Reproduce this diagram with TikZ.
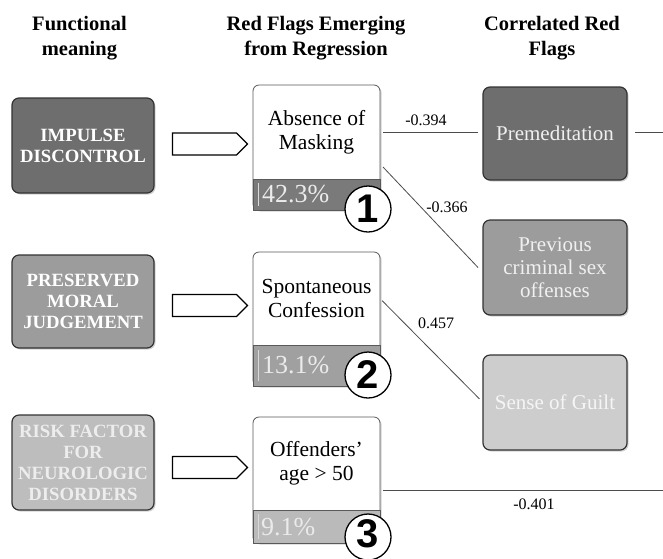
\documentclass[tikz,border=0pt]{standalone}
\usepackage{fontspec}
\setmainfont{Liberation Serif}
\newfontfamily\numfont{Liberation Sans}
\usetikzlibrary{shapes.symbols,shadows,calc}
\definecolor{fA}{HTML}{6E6E6E}
\definecolor{fB}{HTML}{9C9C9C}
\definecolor{fC}{HTML}{BDBDBD}
\definecolor{bA}{HTML}{7A7A7A}
\definecolor{bB}{HTML}{A0A0A0}
\definecolor{bC}{HTML}{BABABA}
\definecolor{cC}{HTML}{CDCDCD}
\begin{document}
\begin{tikzpicture}[x=1pt,y=-1pt,
 every node/.style={inner sep=0pt, outer sep=0pt},
 shad/.style={drop shadow={shadow xshift=1.5pt, shadow yshift=-1.5pt, opacity=0.35}},
 hdr/.style={font=\fontsize{20.5}{25}\selectfont\bfseries, align=center},
 fbox/.style={shad, draw=black!80, line width=1.2pt, rounded corners=7pt, minimum width=142pt, align=center, text=white, font=\fontsize{18.7}{21}\selectfont\bfseries},
 cbox/.style={shad, draw=black!80, line width=1.2pt, rounded corners=7pt, minimum width=144pt, align=center, text=white!94!black, font=\fontsize{21}{23}\selectfont},
 mbox/.style={shad, draw=black!65, line width=0.8pt, fill=white, rounded corners=6pt, minimum width=127pt},
 mtext/.style={minimum width=127pt, align=center, font=\fontsize{21.5}{24}\selectfont},
 band/.style={draw=black!65, line width=0.8pt, minimum width=127pt},
 pct/.style={anchor=west, text=white!92!black, font=\fontsize{26}{26}\selectfont},
 pbar/.style={draw=white!85!black, line width=1.5pt},
 ring/.style={circle, draw=black, line width=1.3pt, fill=white, minimum size=46pt},
 digit/.style={font=\numfont\bfseries\fontsize{40}{40}\selectfont},
 harrow/.style={signal, signal to=east, signal pointer angle=90, draw=black, line width=1.3pt, fill=white, minimum width=75pt, minimum height=22pt},
 link/.style={draw=black!70, line width=0.8pt},
 coef/.style={font=\fontsize{16}{16}\selectfont}
]
\useasboundingbox (0,0) rectangle (663,558);
\fill[white] (0,0) rectangle (663,558);

% headers
\node[hdr] (h1) at (79.5,38) {Functional\\meaning};
\node[hdr] (h2) at (316,38) {Red Flags Emerging\\from Regression};
\node[hdr] (h3) at (552,38) {Correlated Red\\Flags};

% functional boxes
\node[fbox, fill=fA, minimum height=95pt] (f1) at (83,145.5) {IMPULSE\\DISCONTROL};
\node[fbox, fill=fB, minimum height=93pt] (f2) at (83,301.5) {PRESERVED\\MORAL\\JUDGEMENT};
\node[fbox, fill=fC, minimum height=95pt, text=white!93!black] (f3) at (83,462.5) {RISK FACTOR\\FOR\\NEUROLOGIC\\DISORDERS};

% arrows
\node[harrow] (a1) at (204.5,144) {};
\node[harrow] (a2) at (204.5,305.5) {};
\node[harrow] (a3) at (204.5,467.5) {};

% middle box 1
\node[mbox, minimum height=125pt] (m1) at (316.5,147.5) {};
\node[mtext, minimum height=94pt] (m1t) at (316.5,132) {Absence of\\Masking};
\node[band, fill=bA, minimum height=31pt] (m1b) at (316.5,194.5) {};
\draw[pbar] ([shift={(5.5,4)}]m1b.north west) -- ([shift={(5.5,-4)}]m1b.south west);
\node[pct] (p1) at (262,194.5) {42.3\%};
\node[ring] (c1) at (368,209) {};
\node[digit] (d1) at (c1.center) {1};

% middle box 2
\node[mbox, minimum height=134pt] (m2) at (316.5,319) {};
\node[mtext, minimum height=93pt] (m2t) at (316.5,298.5) {Spontaneous\\Confession};
\node[band, fill=bB, minimum height=41pt] (m2b) at (316.5,365.5) {};
\draw[pbar] ([shift={(5.5,5)}]m2b.north west) -- ([shift={(5.5,-5)}]m2b.south west);
\node[pct] (p2) at (262,365.5) {13.1\%};
\node[ring] (c2) at (368,375) {};
\node[digit] (d2) at (c2.center) {2};

% middle box 3
\node[mbox, minimum height=126pt] (m3) at (316.5,480) {};
\node[mtext, minimum height=93pt] (m3t) at (316.5,463.5) {Offenders’\\age > 50};
\node[band, fill=bC, minimum height=33pt] (m3b) at (316.5,526.5) {};
\draw[pbar] ([shift={(5.5,4)}]m3b.north west) -- ([shift={(5.5,-4)}]m3b.south west);
\node[pct] (p3) at (261,527) {9.1\%};
\node[ring] (c3) at (368,537) {};
\node[digit] (d3) at ([yshift=3pt]c3.center) {3};

% correlated boxes
\node[cbox, fill=fA, minimum height=93pt] (pre) at (555,133.5) {Premeditation};
\node[cbox, fill=fB, minimum height=95pt] (prev) at (555,267.5) {Previous\\criminal sex\\offenses};
\node[cbox, fill=cC, minimum height=95pt, text=white!96!black] (sense) at (555,402.5) {Sense of Guilt};

% connectors
\coordinate (r1end) at (663,132);
\coordinate (l4end) at (663,490);
\draw[link, shorten <=3pt, shorten >=5pt] (m1t.east) -- (m1t.east -| pre.west);
\draw[link, shorten <=8pt] (pre.east |- m1t.east) -- (r1end);
\draw[link] ([shift={(3,35)}]m1t.east) -- ([xshift=-5pt]prev.west);
\draw[link, shorten <=3pt, shorten >=5pt] (m2t.east) -- (sense.west);
\draw[link] ([shift={(3,26.5)}]m3t.east) -- (l4end);

% coefficients
\node[coef] (k1) at (426,120) {-0.394};
\node[coef] (k2) at (447,207) {-0.366};
\node[coef] (k3) at (436,323) {0.457};
\node[coef] (k4) at (534,504) {-0.401};
\end{tikzpicture}
\end{document}
